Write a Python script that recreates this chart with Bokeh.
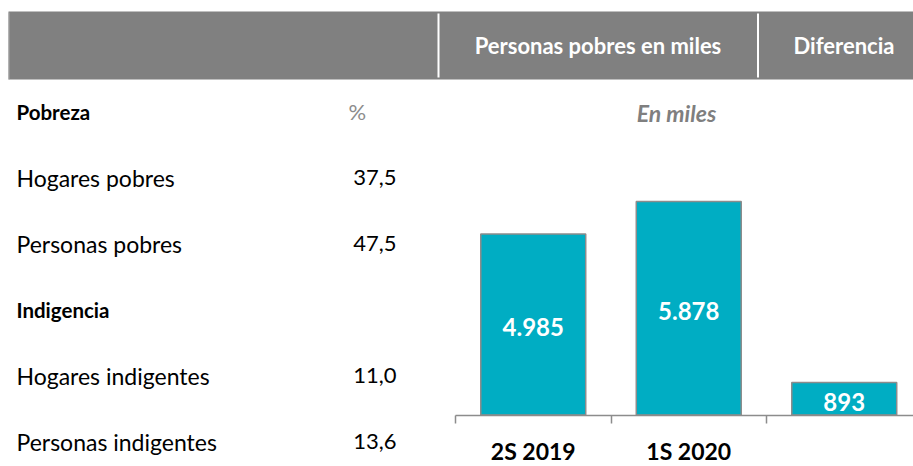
from bokeh.plotting import figure
from bokeh.models import Range1d, LinearAxis, FixedTicker
from bokeh.core.properties import value
from bokeh.embed import file_html
from bokeh.resources import INLINE

# ---------------- data ----------------
header_left = "Personas pobres en miles"
header_right = "Diferencia"
section_titles = ["Pobreza", "Indigencia"]
pct_header = "%"
unit_header = "En miles"
row_labels = ["Hogares pobres", "Personas pobres", "Hogares indigentes", "Personas indigentes"]
row_values = [37.5, 47.5, 11.0, 13.6]
categories = ["2S 2019", "1S 2020", ""]
bar_values = [4985, 5878, 893]

# ---------------- layout constants (pixels, page coords) ----------------
W, H = 913, 466
X0, X1 = 0, 913
Y0, Y1 = 0, 466
CAT_W = 155.5          # px per category
CAT0 = 532.75          # page x of first category centre
BASE = 414.5           # page y of bar baseline
K = 213.5 / 5878       # px per unit of value

FONT = "Lato"
GRAY = "#808080"
TEAL = "#00ADC3"

p = figure(width=W, height=H, output_backend="svg", toolbar_location=None,
           x_range=Range1d(X0, X1), y_range=Range1d(Y1, Y0),
           x_axis_type=None, y_axis_type=None, min_border=0)
p.outline_line_color = None
p.background_fill_color = "white"
p.border_fill_color = "white"

p.extra_x_ranges = {"cat": Range1d((X0 - CAT0) / CAT_W, (X1 - CAT0) / CAT_W)}
p.extra_y_ranges = {"val": Range1d(-(Y1 - BASE) / K, (BASE - Y0) / K)}

# ---------------- header band ----------------
p.quad(left=[8], right=[X1], top=[11], bottom=[79], fill_color=GRAY, line_color=None)
p.segment(x0=[438, 757.5], y0=[13, 13], x1=[438, 757.5], y1=[77, 77],
          line_color="white", line_width=2)
p.segment(x0=[8.5], y0=[12], x1=[8.5], y1=[79], line_color="#a6a6a6", line_width=1)
p.text(x=[597.5, 843.5], y=[45, 45], text=[header_left, header_right],
       text_color="white", text_font=value(FONT), text_font_style="bold",
       text_font_size="22px", text_align="center", text_baseline="alphabetic")

# ---------------- table ----------------
row_ys = [177, 243, 375, 441]
sec_ys = [111, 309]
p.text(x=[16, 16], y=sec_ys, text=section_titles, text_color="black",
       text_font=value(FONT), text_font_style="bold", text_font_size="20.5px",
       text_baseline="alphabetic")
p.text(x=[348], y=[111], text=[pct_header], text_color="#8c8c8c",
       text_font=value(FONT), text_font_size="22px", text_baseline="alphabetic")
p.text(x=[676], y=[112], text=[unit_header], text_color="#7f7f7f",
       text_font=value(FONT), text_font_style="bold italic", text_font_size="23px",
       text_align="center", text_baseline="alphabetic")
p.text(x=[16] * len(row_labels), y=row_ys, text=row_labels, text_color="black",
       text_font=value(FONT), text_font_size="23px", text_baseline="alphabetic")
p.text(x=[396] * len(row_values), y=row_ys,
       text=[f"{v:.1f}".replace(".", ",") for v in row_values], text_color="black",
       text_font=value(FONT), text_font_size="22px", text_align="right",
       text_baseline="alphabetic")

# ---------------- bars ----------------
idx = list(range(len(bar_values)))
p.vbar(x=idx, top=bar_values, bottom=0, width=0.675, x_range_name="cat",
       y_range_name="val", fill_color=TEAL, line_color="#8c8c8c", line_width=1.5)
p.text(x=idx, y=[v / 2 for v in bar_values],
       text=[f"{v:,}".replace(",", ".") for v in bar_values],
       x_range_name="cat", y_range_name="val", text_color="white",
       text_font=value(FONT), text_font_style="bold", text_font_size="24px",
       text_align="center", text_baseline="middle", y_offset=3)

# axis line + boundary ticks
ax_ticks = LinearAxis(x_range_name="cat", y_range_name="val", fixed_location=0,
                      ticker=FixedTicker(ticks=[i - 0.5 for i in idx]),
                      bounds=(-0.5, (X1 - CAT0) / CAT_W))
ax_ticks.axis_line_color = "#8c8c8c"
ax_ticks.axis_line_width = 1.5
ax_ticks.major_tick_line_color = "#8c8c8c"
ax_ticks.major_tick_line_width = 1.5
ax_ticks.major_tick_in = 0
ax_ticks.major_tick_out = 8
ax_ticks.minor_tick_line_color = None
ax_ticks.major_label_text_font_size = "0px"
ax_ticks.major_label_text_alpha = 0
p.add_layout(ax_ticks, "below")

# category labels
ax_lab = LinearAxis(x_range_name="cat", y_range_name="val", fixed_location=0,
                    ticker=FixedTicker(ticks=idx),
                    major_label_overrides={i: c for i, c in zip(idx, categories)})
ax_lab.axis_line_color = None
ax_lab.major_tick_line_color = None
ax_lab.minor_tick_line_color = None
ax_lab.major_tick_out = 0
ax_lab.major_tick_in = 0
ax_lab.major_label_standoff = 22
ax_lab.major_label_text_font = FONT
ax_lab.major_label_text_font_style = "bold"
ax_lab.major_label_text_font_size = "23px"
ax_lab.major_label_text_color = "black"
p.add_layout(ax_lab, "below")

open("out.html", "w").write(file_html(p, INLINE))
